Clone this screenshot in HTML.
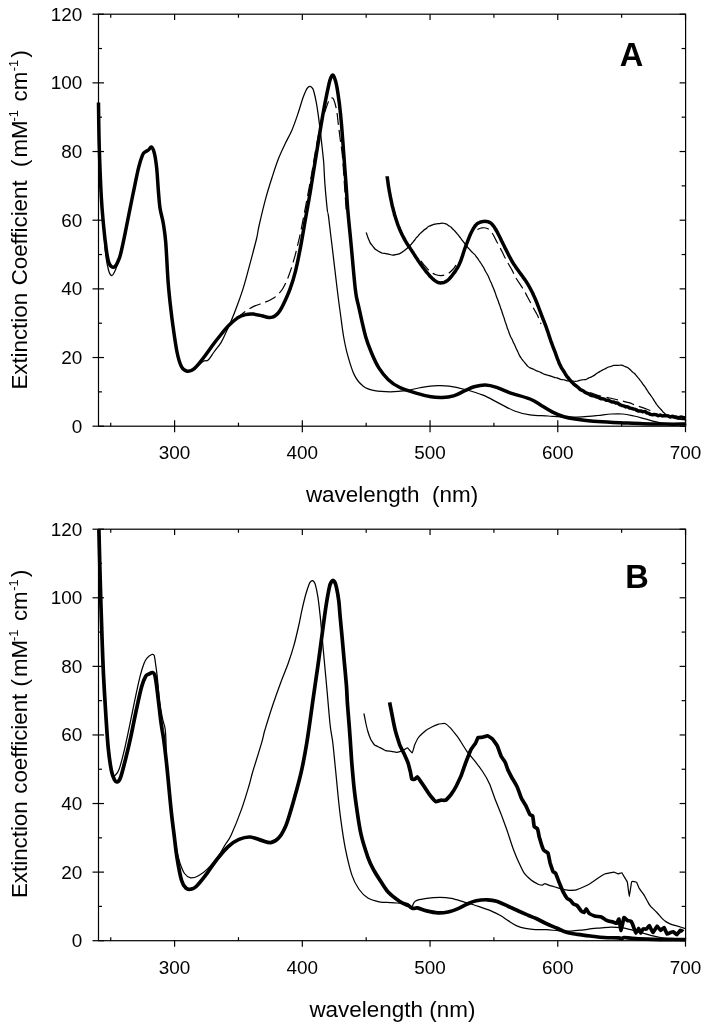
<!DOCTYPE html>
<html><head><meta charset="utf-8"><title>Spectra</title>
<style>
html,body{margin:0;padding:0;background:#fff;}
body{width:708px;height:1029px;overflow:hidden;}
svg{display:block;font-family:"Liberation Sans",Arial,sans-serif;fill:#000;}
.tk{stroke:#000;stroke-width:1.2;}
.tl{font-size:18.2px;}
.al{font-size:21.7px;}
.sup{font-size:12.6px;}
.pl{font-size:32.6px;font-weight:bold;}
.thin{fill:none;stroke:#000;stroke-width:1.25;stroke-linejoin:round;stroke-linecap:round;}
.thick{fill:none;stroke:#000;stroke-width:3.5;stroke-linejoin:round;stroke-linecap:butt;}
.thickB{fill:none;stroke:#000;stroke-width:3.7;stroke-linejoin:round;stroke-linecap:butt;}
.dash{fill:none;stroke:#000;stroke-width:1.2;stroke-dasharray:12 5;}
</style></head><body>
<svg width="708" height="1029" viewBox="0 0 708 1029" style="filter:grayscale(1)">
<rect width="708" height="1029" fill="#fff"/>
<rect x="98.5" y="14.2" width="587.1" height="412.0" fill="none" stroke="#000" stroke-width="1.2"/>
<line x1="92.5" y1="426.20" x2="104.0" y2="426.20" class="tk"/>
<line x1="679.6" y1="426.20" x2="685.6" y2="426.20" class="tk"/>
<text transform="translate(82.3,432.70) scale(1.04,1)" class="tl" text-anchor="end">0</text>
<line x1="98.5" y1="391.87" x2="102.0" y2="391.87" class="tk"/>
<line x1="681.6" y1="391.87" x2="685.6" y2="391.87" class="tk"/>
<line x1="92.5" y1="357.53" x2="104.0" y2="357.53" class="tk"/>
<line x1="679.6" y1="357.53" x2="685.6" y2="357.53" class="tk"/>
<text transform="translate(82.3,364.03) scale(1.04,1)" class="tl" text-anchor="end">20</text>
<line x1="98.5" y1="323.20" x2="102.0" y2="323.20" class="tk"/>
<line x1="681.6" y1="323.20" x2="685.6" y2="323.20" class="tk"/>
<line x1="92.5" y1="288.87" x2="104.0" y2="288.87" class="tk"/>
<line x1="679.6" y1="288.87" x2="685.6" y2="288.87" class="tk"/>
<text transform="translate(82.3,295.37) scale(1.04,1)" class="tl" text-anchor="end">40</text>
<line x1="98.5" y1="254.53" x2="102.0" y2="254.53" class="tk"/>
<line x1="681.6" y1="254.53" x2="685.6" y2="254.53" class="tk"/>
<line x1="92.5" y1="220.20" x2="104.0" y2="220.20" class="tk"/>
<line x1="679.6" y1="220.20" x2="685.6" y2="220.20" class="tk"/>
<text transform="translate(82.3,226.70) scale(1.04,1)" class="tl" text-anchor="end">60</text>
<line x1="98.5" y1="185.87" x2="102.0" y2="185.87" class="tk"/>
<line x1="681.6" y1="185.87" x2="685.6" y2="185.87" class="tk"/>
<line x1="92.5" y1="151.53" x2="104.0" y2="151.53" class="tk"/>
<line x1="679.6" y1="151.53" x2="685.6" y2="151.53" class="tk"/>
<text transform="translate(82.3,158.03) scale(1.04,1)" class="tl" text-anchor="end">80</text>
<line x1="98.5" y1="117.20" x2="102.0" y2="117.20" class="tk"/>
<line x1="681.6" y1="117.20" x2="685.6" y2="117.20" class="tk"/>
<line x1="92.5" y1="82.87" x2="104.0" y2="82.87" class="tk"/>
<line x1="679.6" y1="82.87" x2="685.6" y2="82.87" class="tk"/>
<text transform="translate(82.3,89.37) scale(1.04,1)" class="tl" text-anchor="end">100</text>
<line x1="98.5" y1="48.53" x2="102.0" y2="48.53" class="tk"/>
<line x1="681.6" y1="48.53" x2="685.6" y2="48.53" class="tk"/>
<line x1="92.5" y1="14.20" x2="104.0" y2="14.20" class="tk"/>
<line x1="679.6" y1="14.20" x2="685.6" y2="14.20" class="tk"/>
<text transform="translate(82.3,20.70) scale(1.04,1)" class="tl" text-anchor="end">120</text>
<line x1="110.74" y1="422.7" x2="110.74" y2="426.2" class="tk"/>
<line x1="110.74" y1="14.2" x2="110.74" y2="17.7" class="tk"/>
<line x1="174.60" y1="420.2" x2="174.60" y2="432.2" class="tk"/>
<line x1="174.60" y1="14.2" x2="174.60" y2="20.0" class="tk"/>
<text transform="translate(174.60,459.40) scale(1.04,1)" class="tl" text-anchor="middle">300</text>
<line x1="238.46" y1="422.7" x2="238.46" y2="426.2" class="tk"/>
<line x1="238.46" y1="14.2" x2="238.46" y2="17.7" class="tk"/>
<line x1="302.32" y1="420.2" x2="302.32" y2="432.2" class="tk"/>
<line x1="302.32" y1="14.2" x2="302.32" y2="20.0" class="tk"/>
<text transform="translate(302.32,459.40) scale(1.04,1)" class="tl" text-anchor="middle">400</text>
<line x1="366.19" y1="422.7" x2="366.19" y2="426.2" class="tk"/>
<line x1="366.19" y1="14.2" x2="366.19" y2="17.7" class="tk"/>
<line x1="430.05" y1="420.2" x2="430.05" y2="432.2" class="tk"/>
<line x1="430.05" y1="14.2" x2="430.05" y2="20.0" class="tk"/>
<text transform="translate(430.05,459.40) scale(1.04,1)" class="tl" text-anchor="middle">500</text>
<line x1="493.91" y1="422.7" x2="493.91" y2="426.2" class="tk"/>
<line x1="493.91" y1="14.2" x2="493.91" y2="17.7" class="tk"/>
<line x1="557.77" y1="420.2" x2="557.77" y2="432.2" class="tk"/>
<line x1="557.77" y1="14.2" x2="557.77" y2="20.0" class="tk"/>
<text transform="translate(557.77,459.40) scale(1.04,1)" class="tl" text-anchor="middle">600</text>
<line x1="621.64" y1="422.7" x2="621.64" y2="426.2" class="tk"/>
<line x1="621.64" y1="14.2" x2="621.64" y2="17.7" class="tk"/>
<line x1="685.50" y1="420.2" x2="685.50" y2="432.2" class="tk"/>
<line x1="685.50" y1="14.2" x2="685.50" y2="20.0" class="tk"/>
<text transform="translate(685.50,459.40) scale(1.04,1)" class="tl" text-anchor="middle">700</text>
<rect x="98.5" y="529.2" width="587.1" height="411.5" fill="none" stroke="#000" stroke-width="1.2"/>
<line x1="92.5" y1="940.70" x2="104.0" y2="940.70" class="tk"/>
<line x1="679.6" y1="940.70" x2="685.6" y2="940.70" class="tk"/>
<text transform="translate(82.3,947.20) scale(1.04,1)" class="tl" text-anchor="end">0</text>
<line x1="98.5" y1="906.41" x2="102.0" y2="906.41" class="tk"/>
<line x1="681.6" y1="906.41" x2="685.6" y2="906.41" class="tk"/>
<line x1="92.5" y1="872.12" x2="104.0" y2="872.12" class="tk"/>
<line x1="679.6" y1="872.12" x2="685.6" y2="872.12" class="tk"/>
<text transform="translate(82.3,878.62) scale(1.04,1)" class="tl" text-anchor="end">20</text>
<line x1="98.5" y1="837.83" x2="102.0" y2="837.83" class="tk"/>
<line x1="681.6" y1="837.83" x2="685.6" y2="837.83" class="tk"/>
<line x1="92.5" y1="803.53" x2="104.0" y2="803.53" class="tk"/>
<line x1="679.6" y1="803.53" x2="685.6" y2="803.53" class="tk"/>
<text transform="translate(82.3,810.03) scale(1.04,1)" class="tl" text-anchor="end">40</text>
<line x1="98.5" y1="769.24" x2="102.0" y2="769.24" class="tk"/>
<line x1="681.6" y1="769.24" x2="685.6" y2="769.24" class="tk"/>
<line x1="92.5" y1="734.95" x2="104.0" y2="734.95" class="tk"/>
<line x1="679.6" y1="734.95" x2="685.6" y2="734.95" class="tk"/>
<text transform="translate(82.3,741.45) scale(1.04,1)" class="tl" text-anchor="end">60</text>
<line x1="98.5" y1="700.66" x2="102.0" y2="700.66" class="tk"/>
<line x1="681.6" y1="700.66" x2="685.6" y2="700.66" class="tk"/>
<line x1="92.5" y1="666.37" x2="104.0" y2="666.37" class="tk"/>
<line x1="679.6" y1="666.37" x2="685.6" y2="666.37" class="tk"/>
<text transform="translate(82.3,672.87) scale(1.04,1)" class="tl" text-anchor="end">80</text>
<line x1="98.5" y1="632.08" x2="102.0" y2="632.08" class="tk"/>
<line x1="681.6" y1="632.08" x2="685.6" y2="632.08" class="tk"/>
<line x1="92.5" y1="597.78" x2="104.0" y2="597.78" class="tk"/>
<line x1="679.6" y1="597.78" x2="685.6" y2="597.78" class="tk"/>
<text transform="translate(82.3,604.28) scale(1.04,1)" class="tl" text-anchor="end">100</text>
<line x1="98.5" y1="563.49" x2="102.0" y2="563.49" class="tk"/>
<line x1="681.6" y1="563.49" x2="685.6" y2="563.49" class="tk"/>
<line x1="92.5" y1="529.20" x2="104.0" y2="529.20" class="tk"/>
<line x1="679.6" y1="529.20" x2="685.6" y2="529.20" class="tk"/>
<text transform="translate(82.3,535.70) scale(1.04,1)" class="tl" text-anchor="end">120</text>
<line x1="110.74" y1="937.2" x2="110.74" y2="940.7" class="tk"/>
<line x1="110.74" y1="529.2" x2="110.74" y2="532.7" class="tk"/>
<line x1="174.60" y1="940.7" x2="174.60" y2="946.7" class="tk"/>
<line x1="174.60" y1="529.2" x2="174.60" y2="535.0" class="tk"/>
<text transform="translate(174.60,973.90) scale(1.04,1)" class="tl" text-anchor="middle">300</text>
<line x1="238.46" y1="937.2" x2="238.46" y2="940.7" class="tk"/>
<line x1="238.46" y1="529.2" x2="238.46" y2="532.7" class="tk"/>
<line x1="302.32" y1="940.7" x2="302.32" y2="946.7" class="tk"/>
<line x1="302.32" y1="529.2" x2="302.32" y2="535.0" class="tk"/>
<text transform="translate(302.32,973.90) scale(1.04,1)" class="tl" text-anchor="middle">400</text>
<line x1="366.19" y1="937.2" x2="366.19" y2="940.7" class="tk"/>
<line x1="366.19" y1="529.2" x2="366.19" y2="532.7" class="tk"/>
<line x1="430.05" y1="940.7" x2="430.05" y2="946.7" class="tk"/>
<line x1="430.05" y1="529.2" x2="430.05" y2="535.0" class="tk"/>
<text transform="translate(430.05,973.90) scale(1.04,1)" class="tl" text-anchor="middle">500</text>
<line x1="493.91" y1="937.2" x2="493.91" y2="940.7" class="tk"/>
<line x1="493.91" y1="529.2" x2="493.91" y2="532.7" class="tk"/>
<line x1="557.77" y1="940.7" x2="557.77" y2="946.7" class="tk"/>
<line x1="557.77" y1="529.2" x2="557.77" y2="535.0" class="tk"/>
<text transform="translate(557.77,973.90) scale(1.04,1)" class="tl" text-anchor="middle">600</text>
<line x1="621.64" y1="937.2" x2="621.64" y2="940.7" class="tk"/>
<line x1="621.64" y1="529.2" x2="621.64" y2="532.7" class="tk"/>
<line x1="685.50" y1="940.7" x2="685.50" y2="946.7" class="tk"/>
<line x1="685.50" y1="529.2" x2="685.50" y2="535.0" class="tk"/>
<text transform="translate(685.50,973.90) scale(1.04,1)" class="tl" text-anchor="middle">700</text>
<path d="M98.5 108.0C98.6 114.7 98.8 133.5 99.3 148.3C99.8 163.1 100.6 184.0 101.3 196.9C102.0 209.8 102.9 216.6 103.6 226.0C104.3 235.4 104.7 246.0 105.5 253.3C106.3 260.6 107.5 266.3 108.5 270.0C109.5 273.7 110.8 275.3 111.8 275.6C112.8 275.9 113.6 273.8 114.5 272.0C115.4 270.2 116.4 267.5 117.2 265.0C118.0 262.5 117.9 262.4 119.2 257.2C120.5 252.0 122.7 244.2 125.0 233.8C127.3 223.4 130.5 206.0 132.8 195.0C135.1 184.0 137.0 174.3 138.6 167.7C140.2 161.0 141.4 157.8 142.5 155.1C143.6 152.4 144.4 152.7 145.4 151.8C146.4 151.0 147.5 150.8 148.5 150.0C149.5 149.2 150.5 146.5 151.5 147.1C152.5 147.7 153.5 149.9 154.4 153.4C155.3 156.9 156.0 162.0 156.7 168.1C157.3 174.2 157.8 183.3 158.3 190.0C158.9 196.7 159.2 202.3 160.0 208.0C160.8 213.7 162.5 218.2 163.4 223.9C164.3 229.6 164.9 232.6 165.7 242.0C166.5 251.4 167.3 270.7 168.0 280.4C168.7 290.1 169.1 293.0 169.8 300.0C170.6 307.0 171.3 313.9 172.5 322.6C173.7 331.3 175.5 344.6 177.0 352.0C178.5 359.4 179.8 363.5 181.5 366.7C183.2 369.9 185.1 370.7 187.2 371.2C189.3 371.7 191.4 371.1 194.0 369.5C196.6 367.9 200.6 363.1 203.0 361.5C205.4 359.9 206.4 361.6 208.2 360.0C210.0 358.4 211.9 354.9 214.0 352.0C216.1 349.1 219.0 345.9 221.0 342.6C223.0 339.3 224.5 335.6 226.2 332.1C227.8 328.6 229.1 326.1 230.9 321.6C232.8 317.1 235.2 311.1 237.3 305.3C239.4 299.5 241.6 293.6 243.7 286.6C245.8 279.6 247.9 271.3 250.1 263.3C252.2 255.3 255.1 244.7 256.6 238.5C258.1 232.3 257.5 232.6 259.0 226.0C260.5 219.4 263.4 207.1 265.6 198.9C267.8 190.7 270.0 183.8 272.2 177.0C274.4 170.2 276.5 163.7 278.7 158.1C280.9 152.5 283.1 148.1 285.3 143.5C287.5 138.9 289.7 135.2 291.8 130.4C293.9 125.6 295.9 119.8 297.7 114.4C299.5 109.1 301.4 102.4 302.8 98.3C304.2 94.2 305.5 91.5 306.4 89.6C307.3 87.7 307.8 87.5 308.4 87.0C309.0 86.5 309.5 86.3 310.1 86.4C310.7 86.5 311.3 86.8 311.9 87.6C312.5 88.4 312.9 88.2 313.7 91.0C314.5 93.8 315.6 98.6 316.6 104.2C317.6 109.8 318.5 116.8 319.5 124.6C320.5 132.4 321.8 144.2 322.5 150.8C323.2 157.4 323.4 158.5 323.8 164.0C324.2 169.5 324.3 176.2 324.9 183.9C325.5 191.6 326.7 204.6 327.3 210.0C327.9 215.4 327.6 209.2 328.5 216.4C329.4 223.6 331.4 240.8 332.9 252.9C334.3 265.1 336.0 279.3 337.2 289.3C338.4 299.3 339.2 305.2 340.3 313.0C341.4 320.8 342.3 329.1 343.5 336.0C344.7 342.9 345.7 348.1 347.5 354.6C349.3 361.1 351.7 369.6 354.3 374.9C356.9 380.2 359.9 383.6 363.3 386.2C366.7 388.8 370.1 389.8 374.6 390.7C379.1 391.6 385.0 391.8 390.3 391.8C395.6 391.8 400.9 391.4 406.2 390.7C411.5 389.9 416.7 388.1 422.0 387.3C427.3 386.5 433.3 385.9 437.8 385.7C442.3 385.5 444.6 385.6 449.1 386.2C453.6 386.8 459.2 388.0 464.9 389.5C470.5 391.0 477.4 392.9 483.0 395.2C488.6 397.5 493.5 400.5 498.8 403.1C504.1 405.7 509.4 409.0 514.6 411.0C519.8 413.0 524.4 414.1 530.0 414.9C535.6 415.7 542.1 415.6 548.1 416.0C554.1 416.4 560.6 417.0 566.2 417.1C571.9 417.2 576.7 417.2 582.0 416.9C587.3 416.6 592.9 416.0 597.8 415.5C602.7 415.0 607.2 414.2 611.4 414.0C615.5 413.8 618.9 413.7 622.7 414.0C626.5 414.3 630.2 415.2 634.0 416.0C637.8 416.8 641.5 417.9 645.3 418.9C649.1 419.9 653.2 421.1 656.6 421.9C660.0 422.7 660.8 423.1 665.6 423.5C670.5 423.9 682.4 424.4 685.7 424.6" class="thin" />
<path d="M366.3 232.8C366.3 232.9 366.8 234.2 366.9 234.4C367.0 234.6 367.5 236.5 367.6 236.7C367.7 236.9 368.4 238.7 368.5 239.0C368.6 239.3 369.7 241.7 369.8 242.0C369.9 242.3 371.0 244.1 371.2 244.3C371.4 244.5 372.8 246.3 373.0 246.5C373.2 246.7 374.8 248.8 375.0 249.0C375.2 249.2 377.1 250.4 377.3 250.6C377.6 250.8 379.8 252.0 380.0 252.1C380.2 252.2 382.1 253.1 382.3 253.2C382.5 253.3 384.6 253.3 384.8 253.3C385.0 253.3 386.8 253.8 387.1 253.9C387.4 254.0 389.7 254.4 390.0 254.5C390.3 254.6 392.4 255.2 392.7 255.2C393.0 255.2 395.2 254.8 395.5 254.7C395.8 254.6 398.1 254.2 398.4 254.1C398.7 254.0 400.4 253.2 400.6 253.1C400.8 253.0 402.8 251.7 403.0 251.5C403.2 251.3 405.2 250.0 405.4 249.8C405.6 249.6 407.0 248.5 407.2 248.3C407.4 248.1 408.7 246.4 408.9 246.2C409.1 246.0 410.5 245.0 410.7 244.8C410.9 244.6 412.3 243.0 412.5 242.8C412.7 242.6 414.1 240.7 414.3 240.5C414.5 240.3 415.8 238.3 416.0 238.1C416.2 237.9 417.5 236.6 417.7 236.4C417.9 236.2 419.3 234.4 419.5 234.2C419.7 234.0 421.1 232.7 421.3 232.5C421.5 232.3 422.8 231.2 423.0 231.0C423.2 230.8 424.6 229.5 424.8 229.4C425.0 229.3 426.4 228.4 426.6 228.2C426.8 228.0 428.7 226.4 428.9 226.3C429.1 226.2 431.0 225.5 431.2 225.4C431.4 225.3 433.4 224.4 433.7 224.3C434.0 224.2 436.2 223.9 436.5 223.9C436.8 223.9 439.0 223.5 439.3 223.5C439.6 223.5 441.8 223.1 442.1 223.1C442.4 223.1 444.4 223.4 444.6 223.5C444.8 223.6 446.7 224.2 446.9 224.3C447.1 224.4 449.0 225.9 449.2 226.0C449.4 226.1 450.9 227.0 451.1 227.2C451.3 227.4 452.8 229.0 453.0 229.2C453.2 229.4 454.6 230.8 454.8 231.0C455.0 231.2 456.1 232.6 456.3 232.8C456.5 233.0 457.9 234.6 458.1 234.8C458.3 235.0 459.8 237.1 460.0 237.3C460.2 237.5 461.2 239.0 461.4 239.2C461.5 239.4 462.8 241.0 463.0 241.2C463.2 241.4 464.6 243.5 464.8 243.7C465.0 243.9 466.4 245.6 466.6 245.8C466.8 246.0 468.3 248.1 468.5 248.3C468.7 248.5 469.9 249.8 470.1 250.0C470.3 250.2 471.5 251.6 471.7 251.8C471.9 252.0 473.2 253.2 473.4 253.4C473.6 253.6 474.9 254.7 475.1 254.9C475.3 255.1 476.5 257.1 476.7 257.3C476.9 257.5 478.3 259.4 478.4 259.6C478.5 259.8 479.5 261.2 479.6 261.4C479.7 261.6 480.8 263.0 480.9 263.2C481.0 263.4 482.1 265.2 482.2 265.4C482.3 265.6 483.4 267.1 483.5 267.3C483.6 267.5 484.6 269.7 484.7 269.9C484.8 270.1 485.8 271.8 485.9 272.0C486.0 272.2 487.0 273.8 487.1 274.0C487.2 274.2 488.1 275.8 488.2 276.0C488.3 276.2 489.3 278.6 489.4 278.9C489.5 279.2 490.3 281.1 490.4 281.3C490.5 281.5 491.3 283.0 491.4 283.2C491.5 283.4 492.3 285.7 492.4 285.9C492.5 286.1 493.3 287.9 493.4 288.1C493.5 288.3 494.2 290.1 494.3 290.4C494.4 290.6 495.2 292.8 495.3 293.1C495.4 293.4 496.1 295.4 496.2 295.7C496.3 296.0 497.0 298.0 497.1 298.2C497.2 298.4 497.9 300.1 498.0 300.3C498.1 300.6 498.8 302.9 498.9 303.2C499.0 303.5 499.7 305.1 499.8 305.4C499.9 305.7 500.6 308.0 500.7 308.3C500.8 308.6 501.5 310.3 501.6 310.5C501.7 310.7 502.3 312.9 502.4 313.2C502.5 313.5 503.2 315.6 503.3 315.9C503.4 316.2 504.1 318.0 504.2 318.3C504.3 318.6 504.9 320.9 505.0 321.2C505.1 321.4 505.7 323.1 505.8 323.3C505.9 323.5 506.5 325.4 506.6 325.6C506.7 325.8 507.2 327.9 507.3 328.1C507.4 328.3 507.9 329.5 508.0 329.7C508.1 329.9 508.9 332.2 509.0 332.5C509.1 332.8 509.7 334.5 509.8 334.7C509.9 334.9 510.5 336.5 510.6 336.7C510.7 336.9 511.4 338.1 511.5 338.3C511.6 338.5 512.4 340.1 512.5 340.3C512.6 340.5 513.4 342.6 513.5 342.8C513.6 343.0 514.4 344.3 514.5 344.5C514.6 344.7 515.5 346.9 515.6 347.1C515.7 347.4 516.6 349.3 516.7 349.5C516.8 349.7 517.7 351.5 517.8 351.7C517.9 351.9 518.8 354.1 518.9 354.3C519.0 354.5 519.9 356.2 520.0 356.4C520.1 356.6 521.7 358.9 521.9 359.2C522.1 359.4 523.5 361.2 523.7 361.4C523.9 361.6 525.5 363.7 525.7 363.9C525.9 364.1 527.4 365.9 527.6 366.1C527.8 366.3 529.8 367.8 530.0 367.9C530.2 368.0 531.4 368.3 531.6 368.4C531.8 368.5 533.5 369.2 533.7 369.3C533.9 369.4 535.9 370.5 536.1 370.6C536.4 370.7 538.4 371.4 538.7 371.5C539.0 371.6 541.0 372.5 541.2 372.6C541.4 372.7 543.4 373.9 543.6 374.0C543.8 374.1 545.7 374.5 545.9 374.6C546.1 374.7 547.9 375.3 548.1 375.4C548.3 375.5 550.2 375.8 550.4 375.9C550.6 376.0 552.4 376.7 552.6 376.8C552.8 376.9 554.6 377.5 554.8 377.6C555.0 377.7 556.9 377.8 557.1 377.9C557.3 378.0 559.2 378.8 559.4 378.9C559.6 379.0 561.5 379.5 561.7 379.5C561.9 379.5 563.8 379.7 564.0 379.8C564.2 379.9 566.1 380.5 566.3 380.6C566.5 380.7 568.4 380.9 568.6 380.9C568.8 380.9 570.5 381.3 570.7 381.3C570.9 381.3 572.9 381.2 573.1 381.2C573.3 381.2 575.3 381.3 575.5 381.3C575.7 381.3 577.6 381.1 577.8 381.0C578.0 380.9 579.7 380.3 579.9 380.2C580.1 380.1 581.8 379.8 582.0 379.8C582.2 379.8 584.2 379.7 584.4 379.7C584.6 379.7 586.4 379.3 586.6 379.2C586.8 379.1 588.6 378.0 588.8 377.9C589.0 377.8 590.8 377.2 591.0 377.1C591.2 377.0 593.1 376.0 593.3 375.9C593.5 375.8 595.4 374.5 595.6 374.3C595.8 374.1 597.6 372.9 597.8 372.8C598.0 372.7 599.9 371.5 600.1 371.4C600.3 371.3 602.2 370.2 602.4 370.1C602.6 370.0 604.5 369.1 604.7 369.0C604.9 368.9 606.8 367.8 607.0 367.7C607.2 367.6 608.9 366.9 609.1 366.8C609.3 366.7 611.3 366.4 611.5 366.3C611.7 366.2 613.5 365.4 613.7 365.4C613.9 365.4 615.7 365.4 615.9 365.4C616.1 365.4 618.0 365.4 618.2 365.4C618.4 365.4 620.2 365.1 620.4 365.1C620.6 365.1 622.5 365.3 622.7 365.4C622.9 365.5 624.7 366.4 624.9 366.5C625.1 366.6 626.8 367.2 627.0 367.3C627.2 367.4 629.2 368.8 629.4 369.0C629.6 369.2 630.9 370.4 631.1 370.6C631.3 370.8 632.7 372.2 632.9 372.4C633.1 372.6 634.6 373.6 634.8 373.8C635.0 374.0 636.4 375.8 636.6 376.0C636.8 376.2 638.3 377.9 638.5 378.1C638.7 378.3 639.9 380.1 640.0 380.3C640.1 380.5 641.4 381.8 641.5 382.0C641.6 382.2 642.9 384.2 643.0 384.4C643.1 384.6 644.4 385.9 644.5 386.1C644.6 386.3 645.9 388.2 646.0 388.4C646.1 388.6 647.4 390.6 647.5 390.8C647.6 391.0 648.7 392.7 648.8 392.9C648.9 393.1 650.1 394.4 650.2 394.6C650.3 394.8 651.4 396.3 651.5 396.5C651.6 396.7 652.8 398.3 652.9 398.5C653.0 398.7 654.1 400.5 654.2 400.7C654.3 400.9 655.3 402.2 655.4 402.4C655.5 402.6 656.4 404.2 656.6 404.4C656.8 404.6 658.3 406.7 658.5 406.9C658.7 407.1 660.0 408.4 660.2 408.6C660.4 408.8 661.6 410.2 661.8 410.4C662.0 410.6 663.1 412.1 663.3 412.3C663.5 412.5 665.4 414.0 665.6 414.2C665.8 414.4 667.7 415.6 667.9 415.7C668.1 415.8 669.7 416.4 669.9 416.5C670.1 416.6 672.0 417.3 672.3 417.4C672.6 417.5 674.7 418.3 675.0 418.4C675.3 418.5 677.4 419.2 677.7 419.2C678.0 419.2 680.5 419.3 680.8 419.3C681.1 419.3 683.5 419.7 683.7 419.7C683.9 419.7 685.6 420.0 685.7 420.0" class="thin" />
<path d="M236.0 319.0C236.6 318.5 237.9 317.2 239.7 315.8C241.5 314.4 244.1 312.2 246.6 310.6C249.1 309.0 252.1 307.2 254.8 305.9C257.5 304.6 260.3 304.1 263.0 303.0C265.7 301.9 268.8 300.8 271.1 299.5C273.4 298.2 275.0 297.4 277.0 295.5C279.0 293.6 281.3 291.3 283.3 287.8C285.3 284.3 287.3 279.6 289.1 274.7C290.9 269.8 292.6 264.3 294.2 258.7C295.8 253.1 297.2 247.0 298.6 241.2C300.0 235.4 301.1 229.8 302.3 223.7C303.5 217.6 304.7 211.1 305.9 204.8C307.1 198.5 308.4 191.6 309.5 185.8C310.6 180.0 311.2 176.3 312.3 170.0C313.4 163.7 314.6 155.5 316.0 148.0C317.4 140.5 319.1 131.2 320.6 125.0C322.2 118.8 323.8 114.8 325.3 110.5C326.8 106.2 328.3 101.5 329.4 99.4C330.4 97.3 330.9 97.9 331.6 97.9C332.3 97.9 332.8 97.4 333.6 99.3C334.4 101.2 335.8 105.8 336.5 109.5C337.2 113.2 337.4 116.1 338.0 121.2C338.6 126.3 339.6 134.4 340.3 140.0C341.0 145.6 341.6 147.4 342.3 154.7C343.0 162.0 343.8 174.7 344.4 183.9C345.0 193.1 345.9 205.7 346.2 210.0" class="dash" />
<path d="M421.0 261.0C421.5 261.6 422.4 263.0 423.8 264.6C425.2 266.2 427.5 269.2 429.4 270.9C431.3 272.5 433.1 273.7 435.1 274.5C437.1 275.3 439.3 275.7 441.4 275.6C443.5 275.5 445.8 274.9 447.8 273.8C449.8 272.7 452.0 270.3 453.4 268.8C454.8 267.3 455.6 265.6 456.0 265.0" class="dash" />
<path d="M477.5 229.6C478.1 229.3 479.6 228.2 481.2 228.0C482.8 227.8 485.0 227.4 486.8 228.2C488.6 228.9 490.2 230.4 491.8 232.5C493.4 234.6 494.6 237.7 496.4 241.0C498.2 244.3 500.8 249.2 502.4 252.3C504.0 255.4 504.2 256.2 505.9 259.3C507.5 262.4 510.6 267.5 512.3 270.6C513.9 273.7 513.9 274.5 515.8 277.7C517.7 280.9 521.6 286.4 523.6 289.7C525.6 293.0 526.0 294.2 527.8 297.5C529.6 300.8 532.6 306.4 534.2 309.5C535.9 312.6 536.6 313.4 537.7 315.8C538.8 318.2 540.5 322.6 541.0 324.0" class="dash" />
<path d="M590.0 392.6C591.4 393.1 595.2 394.7 598.5 395.6C601.8 396.5 606.9 397.4 609.8 398.0C612.7 398.6 612.9 398.7 616.1 399.5C619.3 400.3 625.6 401.8 628.8 402.7C632.0 403.6 632.2 404.1 635.2 405.2C638.2 406.2 643.2 407.8 646.5 409.0C649.8 410.2 653.6 411.8 655.0 412.3" class="dash" />
<path d="M98.5 102.6C98.6 110.2 98.8 132.6 99.3 148.3C99.8 164.0 100.6 184.0 101.3 196.9C102.0 209.8 102.8 217.2 103.6 226.0C104.4 234.8 105.5 243.7 106.3 249.4C107.1 255.2 107.6 258.0 108.2 260.5C108.8 263.0 109.2 263.6 109.8 264.6C110.3 265.6 110.9 266.2 111.5 266.6C112.1 267.0 112.6 267.2 113.2 267.2C113.8 267.2 114.3 267.1 114.9 266.6C115.5 266.1 116.0 265.5 116.6 264.4C117.2 263.3 117.9 261.7 118.6 260.0C119.3 258.3 119.5 258.4 120.6 254.0C121.7 249.6 123.0 243.6 125.0 233.8C127.0 224.0 130.5 206.0 132.8 195.0C135.1 184.0 137.0 174.3 138.6 167.7C140.2 161.0 141.4 157.8 142.5 155.1C143.6 152.4 144.4 152.7 145.4 151.8C146.4 151.0 147.5 150.8 148.5 150.0C149.5 149.2 150.5 146.5 151.5 147.1C152.5 147.7 153.5 149.9 154.4 153.4C155.3 156.9 156.0 162.0 156.7 168.1C157.3 174.2 157.8 183.3 158.3 190.0C158.9 196.7 159.2 202.3 160.0 208.0C160.8 213.7 162.5 218.2 163.4 223.9C164.3 229.6 164.9 232.6 165.7 242.0C166.5 251.4 167.3 270.7 168.0 280.4C168.7 290.1 169.1 293.0 169.8 300.0C170.6 307.0 171.3 313.9 172.5 322.6C173.7 331.3 175.5 344.6 177.0 352.0C178.5 359.4 179.8 363.5 181.5 366.7C183.2 369.9 185.1 370.8 187.2 371.2C189.3 371.6 191.3 371.1 194.0 368.9C196.7 366.7 200.4 361.8 203.5 357.8C206.6 353.8 209.9 348.9 212.8 345.0C215.7 341.1 218.3 337.8 221.0 334.5C223.7 331.2 226.5 327.8 229.2 325.1C231.9 322.4 234.6 319.9 237.3 318.1C240.0 316.4 242.8 315.3 245.5 314.6C248.2 313.9 250.9 313.9 253.6 314.1C256.3 314.3 259.3 315.2 261.8 315.8C264.3 316.4 266.9 317.3 268.7 317.5C270.5 317.7 271.3 317.6 272.5 317.2C273.7 316.8 274.8 316.2 276.0 315.2C277.2 314.2 278.5 312.8 279.7 311.0C280.9 309.2 281.6 308.1 283.3 304.5C285.0 300.9 287.8 295.0 289.9 289.3C292.0 283.6 293.9 277.6 295.7 270.3C297.5 263.0 299.1 254.6 300.8 245.6C302.5 236.6 304.3 225.4 305.9 216.4C307.5 207.4 309.0 199.5 310.3 191.7C311.6 183.8 312.3 179.1 313.9 169.3C315.5 159.5 318.0 143.8 319.8 132.9C321.6 122.0 323.3 112.0 324.9 103.7C326.5 95.4 328.2 87.4 329.2 83.0C330.2 78.6 330.4 78.5 331.0 77.2C331.6 75.9 332.1 75.1 332.6 75.1C333.2 75.1 333.7 75.8 334.3 77.4C334.9 79.0 335.6 80.4 336.5 84.8C337.4 89.2 338.5 96.9 339.4 103.7C340.2 110.5 340.9 117.1 341.6 125.6C342.3 134.1 343.1 145.0 343.8 154.7C344.5 164.4 345.3 174.7 346.0 183.9C346.7 193.1 347.0 200.3 347.8 210.0C348.6 219.7 349.6 229.0 350.9 242.3C352.2 255.6 354.1 279.2 355.4 290.0C356.7 300.8 357.1 299.4 358.8 307.1C360.5 314.9 363.4 328.7 365.6 336.5C367.8 344.3 369.8 348.7 372.0 354.0C374.2 359.3 376.3 363.9 379.0 368.1C381.7 372.3 384.7 376.2 388.1 379.4C391.5 382.6 394.9 385.1 399.4 387.3C403.9 389.6 409.9 391.3 415.2 392.9C420.5 394.5 426.5 396.0 431.0 396.8C435.5 397.6 438.5 397.6 442.3 397.5C446.1 397.4 449.8 397.0 453.6 395.9C457.4 394.8 461.5 392.2 464.9 390.7C468.3 389.2 470.6 387.8 474.0 386.8C477.4 385.9 481.5 384.9 485.3 385.0C489.1 385.1 492.5 386.0 496.6 387.3C500.7 388.6 504.5 390.9 510.1 392.9C515.7 394.8 524.8 396.9 530.0 399.0C535.2 401.1 537.5 403.2 541.3 405.4C545.1 407.6 548.8 410.2 552.6 412.1C556.4 414.0 560.1 415.6 563.9 416.7C567.7 417.8 569.6 418.1 575.2 418.9C580.9 419.7 590.3 421.0 597.8 421.6C605.3 422.2 612.9 422.5 620.4 422.8C627.9 423.1 635.5 423.5 643.0 423.7C650.5 423.9 658.5 424.0 665.6 424.1C672.7 424.2 682.4 424.1 685.7 424.1" class="thick" />
<path d="M387.1 176.3C387.1 176.4 387.3 177.4 387.3 177.5C387.3 177.6 387.5 179.0 387.5 179.2C387.5 179.4 387.8 181.0 387.8 181.2C387.8 181.4 388.1 183.2 388.1 183.4C388.1 183.6 388.4 185.5 388.4 185.7C388.4 185.9 388.8 187.9 388.8 188.1C388.8 188.3 389.2 190.2 389.2 190.4C389.2 190.6 389.5 192.0 389.5 192.2C389.5 192.4 389.9 193.8 389.9 194.0C389.9 194.2 390.2 195.7 390.2 195.9C390.2 196.1 390.6 197.6 390.6 197.8C390.6 198.0 391.0 199.5 391.0 199.7C391.0 199.9 391.4 201.4 391.4 201.6C391.4 201.8 391.8 203.4 391.8 203.6C391.8 203.8 392.2 205.3 392.2 205.5C392.2 205.7 392.6 207.2 392.7 207.4C392.8 207.6 393.1 209.1 393.2 209.3C393.2 209.5 393.6 211.0 393.7 211.2C393.8 211.4 394.1 212.9 394.2 213.1C394.2 213.3 394.6 214.9 394.7 215.1C394.8 215.3 395.2 216.8 395.3 217.0C395.4 217.2 395.8 218.7 395.9 218.9C396.0 219.1 396.4 220.5 396.5 220.7C396.6 220.9 397.0 222.3 397.1 222.5C397.2 222.7 397.6 224.1 397.7 224.3C397.8 224.5 398.3 226.0 398.4 226.2C398.5 226.4 399.1 227.9 399.2 228.1C399.3 228.3 399.8 229.7 399.9 229.9C400.0 230.1 400.6 231.5 400.7 231.7C400.8 231.9 401.4 233.2 401.5 233.4C401.6 233.6 402.2 234.9 402.3 235.1C402.4 235.3 403.1 236.6 403.2 236.8C403.3 237.0 403.9 238.2 404.0 238.4C404.1 238.6 404.9 239.9 405.0 240.1C405.1 240.3 405.8 241.6 405.9 241.8C406.0 242.0 406.8 243.2 406.9 243.4C407.0 243.6 407.8 244.8 407.9 244.9C408.0 245.1 408.9 246.2 409.0 246.4C409.1 246.6 409.9 247.8 410.0 248.0C410.1 248.2 411.0 249.5 411.1 249.7C411.2 249.9 412.0 251.0 412.1 251.2C412.2 251.4 413.0 252.6 413.1 252.8C413.2 253.0 414.1 254.3 414.2 254.5C414.3 254.7 415.1 255.9 415.2 256.1C415.3 256.3 416.2 257.5 416.3 257.7C416.4 257.9 417.3 259.2 417.4 259.4C417.5 259.6 418.3 260.8 418.4 261.0C418.5 261.2 419.4 262.3 419.5 262.5C419.6 262.7 420.6 264.0 420.7 264.2C420.8 264.4 421.9 265.8 422.0 266.0C422.1 266.2 423.1 267.5 423.2 267.7C423.3 267.9 424.3 269.1 424.4 269.3C424.5 269.5 425.6 270.7 425.7 270.9C425.8 271.1 426.8 272.3 426.9 272.4C427.0 272.5 427.9 273.6 428.0 273.8C428.1 274.0 429.4 275.4 429.5 275.6C429.6 275.8 430.9 277.0 431.0 277.1C431.1 277.2 432.3 278.5 432.4 278.6C432.5 278.7 433.7 279.7 433.8 279.8C433.9 279.9 434.9 280.7 435.1 280.8C435.3 280.9 436.8 281.9 437.0 282.0C437.2 282.1 438.6 282.7 438.8 282.7C439.0 282.7 440.5 282.9 440.7 282.9C440.9 282.9 442.6 282.7 442.8 282.7C443.0 282.7 444.7 282.1 444.9 282.0C445.1 281.9 446.9 280.9 447.1 280.8C447.3 280.7 448.3 279.9 448.4 279.8C448.5 279.7 449.5 278.6 449.6 278.5C449.7 278.4 450.8 277.2 450.9 277.1C451.0 277.0 452.0 275.7 452.1 275.5C452.2 275.3 453.3 274.0 453.4 273.8C453.5 273.6 454.3 272.5 454.4 272.4C454.5 272.3 455.4 271.1 455.5 270.9C455.6 270.7 456.4 269.5 456.5 269.3C456.6 269.1 457.5 267.8 457.6 267.6C457.7 267.4 458.5 265.9 458.6 265.7C458.7 265.5 459.5 263.8 459.6 263.6C459.7 263.4 460.2 262.2 460.3 262.0C460.4 261.8 460.9 260.4 461.0 260.2C461.1 260.0 461.5 258.5 461.6 258.3C461.7 258.1 462.2 256.6 462.3 256.4C462.4 256.2 462.9 254.5 463.0 254.3C463.1 254.1 463.5 252.5 463.6 252.3C463.7 252.1 464.2 250.5 464.3 250.3C464.4 250.1 464.8 248.6 464.9 248.4C465.0 248.2 465.5 246.8 465.6 246.6C465.7 246.4 466.2 244.9 466.3 244.7C466.4 244.5 467.0 242.9 467.1 242.7C467.2 242.5 467.7 241.0 467.8 240.8C467.9 240.6 468.4 239.2 468.5 239.0C468.6 238.8 469.1 237.4 469.2 237.2C469.3 237.0 469.8 235.7 469.9 235.5C470.0 235.3 470.5 234.1 470.6 233.9C470.7 233.8 471.2 232.7 471.3 232.5C471.4 232.3 472.2 230.7 472.3 230.5C472.4 230.3 473.2 228.9 473.3 228.7C473.4 228.5 474.2 227.3 474.3 227.2C474.4 227.1 475.1 225.9 475.2 225.8C475.3 225.7 476.1 224.8 476.2 224.7C476.3 224.6 477.6 223.4 477.8 223.3C478.0 223.2 479.3 222.6 479.5 222.5C479.7 222.4 481.0 222.0 481.2 221.9C481.4 221.8 482.8 221.5 483.0 221.5C483.2 221.5 484.8 221.3 485.0 221.3C485.2 221.3 486.6 221.5 486.8 221.5C487.0 221.5 488.3 221.8 488.5 221.9C488.7 222.0 490.0 222.6 490.2 222.7C490.4 222.8 491.7 223.9 491.8 224.0C491.9 224.1 492.9 225.2 493.0 225.4C493.1 225.6 494.1 226.8 494.2 227.0C494.3 227.2 495.3 228.7 495.4 228.9C495.5 229.1 496.6 230.9 496.7 231.1C496.8 231.3 497.5 232.5 497.6 232.7C497.7 232.9 498.4 234.4 498.5 234.6C498.6 234.8 499.4 236.3 499.5 236.5C499.6 236.7 500.4 238.3 500.5 238.5C500.6 238.7 501.3 240.3 501.4 240.5C501.5 240.7 502.3 242.2 502.4 242.4C502.5 242.6 503.2 244.1 503.3 244.3C503.4 244.5 504.2 246.0 504.3 246.2C504.4 246.4 505.1 248.0 505.2 248.2C505.3 248.4 506.1 249.9 506.2 250.1C506.3 250.3 507.0 251.7 507.1 251.9C507.2 252.1 507.9 253.5 508.0 253.7C508.1 253.9 508.9 255.5 509.0 255.7C509.1 255.9 509.9 257.3 510.0 257.5C510.1 257.7 510.8 259.1 510.9 259.3C511.0 259.5 511.8 260.9 511.9 261.1C512.0 261.3 512.9 262.7 513.0 262.9C513.1 263.1 513.9 264.2 514.0 264.4C514.1 264.5 514.9 265.8 515.0 265.9C515.1 266.0 515.9 267.2 516.0 267.4C516.1 267.5 517.0 268.8 517.1 268.9C517.2 269.0 518.1 270.2 518.2 270.4C518.3 270.6 519.2 271.8 519.3 272.0C519.4 272.2 520.4 273.4 520.5 273.6C520.6 273.8 521.6 275.0 521.7 275.2C521.8 275.4 522.8 276.7 522.9 276.9C523.0 277.1 524.0 278.4 524.1 278.6C524.2 278.8 525.2 280.0 525.3 280.2C525.4 280.4 526.3 281.7 526.4 281.9C526.5 282.1 527.3 283.3 527.4 283.5C527.5 283.7 528.3 284.9 528.4 285.1C528.5 285.3 529.2 286.6 529.3 286.8C529.4 287.0 530.1 288.2 530.2 288.4C530.3 288.6 531.0 289.9 531.1 290.1C531.2 290.3 531.9 291.6 532.0 291.8C532.1 292.0 532.8 293.4 532.9 293.6C533.0 293.8 533.6 295.3 533.7 295.5C533.8 295.7 534.5 297.2 534.6 297.4C534.7 297.6 535.3 299.1 535.4 299.3C535.5 299.5 536.1 301.0 536.2 301.2C536.3 301.4 536.9 302.9 537.0 303.1C537.1 303.3 537.6 304.8 537.7 305.0C537.8 305.2 538.3 306.6 538.4 306.8C538.5 307.0 539.0 308.5 539.1 308.7C539.2 308.9 539.7 310.3 539.8 310.5C539.9 310.7 540.4 312.2 540.5 312.4C540.6 312.6 541.1 314.2 541.2 314.4C541.3 314.6 541.8 315.9 541.9 316.1C542.0 316.3 542.5 317.7 542.6 317.9C542.7 318.1 543.2 319.5 543.3 319.7C543.4 319.9 544.0 321.4 544.1 321.6C544.2 321.8 544.7 323.2 544.8 323.4C544.9 323.6 545.4 325.1 545.5 325.3C545.6 325.5 546.1 326.9 546.2 327.1C546.3 327.3 546.7 328.7 546.8 328.9C546.9 329.1 547.4 330.6 547.5 330.8C547.6 331.0 548.0 332.5 548.1 332.7C548.2 332.9 548.6 334.3 548.7 334.5C548.8 334.7 549.2 336.1 549.3 336.3C549.4 336.5 549.8 338.0 549.9 338.2C550.0 338.4 550.4 339.8 550.5 340.0C550.6 340.2 551.1 341.8 551.2 342.0C551.3 342.2 551.9 343.8 552.0 344.0C552.1 344.2 552.6 345.8 552.7 346.0C552.8 346.2 553.4 347.9 553.5 348.1C553.6 348.3 554.2 349.9 554.3 350.1C554.4 350.3 554.9 351.7 555.0 351.9C555.1 352.1 555.6 353.7 555.7 353.9C555.8 354.1 556.4 355.9 556.5 356.1C556.6 356.3 557.1 358.0 557.2 358.2C557.3 358.4 557.9 359.9 558.0 360.1C558.1 360.3 558.6 361.7 558.7 361.9C558.8 362.1 559.3 363.5 559.4 363.7C559.5 363.9 560.3 365.4 560.4 365.6C560.5 365.8 561.3 367.5 561.4 367.7C561.5 367.9 562.3 369.0 562.4 369.2C562.5 369.4 563.4 370.7 563.5 370.9C563.6 371.1 564.5 372.4 564.6 372.6C564.7 372.8 565.5 374.2 565.6 374.4C565.7 374.6 566.8 376.2 566.9 376.4C567.0 376.6 568.3 377.9 568.4 378.1C568.5 378.3 569.5 379.5 569.6 379.7C569.7 379.9 570.9 381.1 571.0 381.2C571.1 381.3 572.3 382.5 572.5 382.7C572.7 382.9 573.9 384.3 574.1 384.4C574.3 384.5 575.6 385.5 575.8 385.6C576.0 385.7 577.3 386.9 577.5 387.0C577.7 387.1 578.9 388.1 579.0 388.2C579.1 388.3 580.3 389.5 580.5 389.6C580.7 389.7 581.9 390.3 582.1 390.4C582.3 390.5 583.5 391.2 583.7 391.3C583.9 391.4 585.1 392.4 585.3 392.5C585.5 392.6 586.9 393.1 587.1 393.2C587.3 393.3 588.6 393.8 588.8 393.9C589.0 394.0 590.4 395.0 590.6 395.1C590.8 395.2 592.3 395.7 592.5 395.7C592.7 395.7 594.2 395.9 594.4 396.0C594.6 396.1 596.2 396.8 596.4 396.9C596.6 397.0 598.2 397.3 598.4 397.4C598.6 397.5 600.1 398.3 600.3 398.4C600.5 398.5 602.1 398.8 602.3 398.8C602.5 398.8 604.0 398.9 604.2 399.0C604.4 399.1 606.0 400.3 606.2 400.4C606.4 400.5 607.9 400.1 608.1 400.1C608.3 400.1 609.9 401.0 610.1 401.1C610.3 401.2 611.8 402.1 612.0 402.1C612.2 402.1 613.8 401.9 614.0 402.0C614.2 402.1 615.7 403.0 615.9 403.1C616.1 403.2 617.6 403.0 617.8 403.1C618.0 403.2 619.6 404.5 619.8 404.6C620.0 404.7 621.5 405.3 621.7 405.4C621.9 405.5 623.4 405.7 623.6 405.8C623.8 405.9 625.3 406.9 625.5 406.9C625.7 406.9 627.3 406.6 627.5 406.7C627.7 406.8 629.2 407.8 629.4 407.9C629.6 408.0 631.1 408.2 631.3 408.3C631.5 408.4 633.1 408.8 633.3 408.9C633.5 408.9 635.0 409.2 635.2 409.3C635.4 409.4 637.0 410.3 637.2 410.4C637.4 410.5 638.9 411.1 639.1 411.1C639.3 411.1 640.9 410.9 641.1 410.9C641.3 410.9 642.8 411.7 643.0 411.7C643.2 411.7 644.7 411.3 644.9 411.4C645.1 411.5 646.7 412.8 646.9 412.9C647.1 413.0 648.6 413.3 648.8 413.4C649.0 413.5 650.6 414.4 650.8 414.5C651.0 414.6 652.5 414.7 652.7 414.7C652.9 414.7 654.5 414.4 654.7 414.4C654.9 414.4 656.4 414.8 656.6 414.9C656.8 415.0 658.3 415.7 658.5 415.7C658.7 415.7 660.2 415.0 660.4 415.0C660.6 415.0 662.1 415.9 662.3 415.9C662.5 415.9 664.0 415.7 664.2 415.7C664.4 415.7 665.9 415.8 666.1 415.8C666.3 415.8 667.9 415.8 668.1 415.9C668.3 416.0 669.9 417.1 670.1 417.1C670.3 417.1 671.9 416.3 672.1 416.3C672.3 416.3 674.0 416.7 674.2 416.7C674.4 416.7 676.3 416.9 676.5 417.0C676.7 417.1 678.5 417.9 678.7 417.9C678.9 417.9 680.7 416.9 680.9 416.9C681.1 416.9 682.6 417.5 682.8 417.5C683.0 417.5 684.4 417.8 684.5 417.8C684.6 417.8 685.6 418.4 685.7 418.4" class="thick" />
<path d="M100.5 600.0C100.8 606.7 101.5 626.9 102.0 640.0C102.5 653.1 102.9 666.1 103.5 678.9C104.1 691.7 104.9 705.5 105.6 717.0C106.3 728.5 107.0 739.7 107.8 748.0C108.6 756.3 109.7 762.7 110.6 767.0C111.5 771.3 112.2 772.6 113.0 774.0C113.8 775.4 114.3 776.0 115.3 775.2C116.3 774.4 117.8 772.9 119.2 769.0C120.6 765.1 122.2 758.9 123.9 751.9C125.6 744.9 127.5 735.6 129.3 727.1C131.1 718.6 132.9 709.2 134.7 700.6C136.5 692.0 138.6 682.0 140.2 675.8C141.8 669.6 142.9 666.3 144.1 663.3C145.3 660.3 145.9 659.4 147.2 657.9C148.5 656.4 150.6 654.9 151.8 654.5C153.0 654.1 153.5 653.8 154.2 655.5C154.8 657.2 155.2 661.3 155.7 664.9C156.2 668.5 156.7 671.1 157.3 677.3C158.0 683.5 158.7 695.2 159.6 702.2C160.5 709.2 161.8 714.9 162.7 719.3C163.6 723.7 164.6 725.2 165.1 728.6C165.6 732.0 165.7 734.8 165.9 739.5C166.1 744.2 165.8 749.9 166.2 756.6C166.6 763.3 167.5 770.5 168.4 779.9C169.3 789.3 170.5 802.8 171.6 812.8C172.7 822.8 174.0 832.9 175.0 839.9C176.0 846.9 176.9 850.9 177.8 855.0C178.7 859.1 179.3 861.3 180.4 864.4C181.5 867.5 182.8 871.2 184.5 873.5C186.2 875.8 188.3 877.5 190.6 877.9C192.9 878.3 195.7 877.2 198.5 875.7C201.3 874.2 204.1 872.3 207.5 868.9C210.9 865.5 215.8 859.4 218.8 855.3C221.8 851.1 223.5 847.4 225.6 844.0C227.7 840.6 228.6 840.7 231.2 835.0C233.8 829.3 238.3 818.2 241.3 809.9C244.3 801.6 247.3 791.3 249.2 785.0C251.1 778.7 250.5 779.2 252.6 772.2C254.7 765.2 259.6 749.8 261.6 742.8C263.7 735.8 263.0 736.2 264.9 730.0C266.8 723.8 270.1 713.0 272.7 705.3C275.3 697.5 277.8 690.5 280.4 683.5C283.0 676.5 286.0 669.5 288.2 663.3C290.4 657.1 292.0 652.2 293.7 646.2C295.4 640.2 296.9 633.7 298.3 627.5C299.7 621.3 300.9 614.6 302.2 608.9C303.5 603.2 304.9 597.4 306.1 593.3C307.3 589.1 308.4 586.0 309.2 584.0C310.0 582.0 310.4 582.0 310.9 581.4C311.4 580.8 311.8 580.6 312.3 580.6C312.8 580.6 313.3 580.9 313.8 581.6C314.3 582.3 314.7 582.3 315.4 584.8C316.1 587.3 317.0 591.3 317.8 596.4C318.6 601.5 319.3 607.8 320.1 615.1C320.9 622.4 321.6 631.5 322.4 640.0C323.2 648.5 324.0 657.9 324.8 666.4C325.6 674.9 326.2 681.4 327.1 691.3C328.0 701.1 329.2 716.9 330.2 725.5C331.1 734.1 331.9 735.0 332.8 742.8C333.7 750.6 334.9 763.5 335.8 772.2C336.7 780.9 337.2 787.2 338.0 795.0C338.8 802.8 339.5 810.0 340.7 818.9C341.9 827.8 343.4 838.9 345.3 848.3C347.2 857.7 349.8 868.6 352.0 875.4C354.2 882.2 356.2 885.2 358.8 889.0C361.4 892.8 364.5 895.9 367.9 898.0C371.3 900.1 375.5 901.0 379.2 901.8C382.9 902.6 387.0 902.4 390.0 902.6C393.0 902.8 394.2 902.9 397.1 903.0C400.0 903.1 404.9 902.8 407.3 903.4C409.8 904.0 410.5 907.2 411.8 906.8C413.1 906.4 412.8 902.6 415.2 901.2C417.6 899.8 422.4 899.0 426.5 898.4C430.6 897.8 436.0 897.3 440.1 897.3C444.2 897.3 447.3 897.6 451.4 898.4C455.5 899.2 460.4 901.0 464.9 902.3C469.4 903.6 474.0 904.9 478.5 906.4C483.0 907.9 488.4 909.8 492.0 911.3C495.6 912.8 497.2 913.7 500.0 915.3C502.8 916.9 505.7 919.1 508.5 920.9C511.3 922.7 514.1 924.6 516.9 925.9C519.7 927.1 522.3 927.8 525.4 928.4C528.5 929.0 531.8 929.5 535.3 929.7C538.8 929.9 542.6 929.5 546.6 929.7C550.6 929.9 555.3 930.6 559.3 930.8C563.3 931.0 566.8 931.2 570.6 931.1C574.4 931.0 578.4 930.5 581.9 930.1C585.4 929.7 588.6 929.1 591.8 928.7C595.0 928.3 598.1 928.2 601.3 927.9C604.5 927.6 607.9 927.1 611.2 927.1C614.5 927.1 617.8 927.2 621.1 927.6C624.4 928.0 627.7 928.9 631.0 929.7C634.3 930.5 637.5 931.6 640.8 932.5C644.1 933.4 647.4 934.5 650.7 935.3C654.0 936.1 657.1 937.0 660.6 937.5C664.1 938.0 667.7 938.2 671.9 938.4C676.1 938.6 683.4 938.7 685.7 938.8" class="thin" />
<path d="M364.0 713.9C364.1 714.4 365.6 722.1 365.8 723.0C366.0 723.9 367.6 730.7 367.9 731.5C368.1 732.3 370.5 738.8 370.8 739.5C371.1 740.2 374.1 744.7 374.6 745.1C375.1 745.5 379.4 747.3 380.0 747.6C380.6 747.9 385.0 750.5 385.6 750.7C386.2 750.9 390.7 751.3 391.3 751.4C391.9 751.5 396.3 752.4 396.9 752.4C397.5 752.4 402.1 750.9 402.6 750.7C403.1 750.5 407.0 747.8 407.5 747.9C408.0 748.0 411.8 753.0 412.2 752.9C412.6 752.8 414.3 745.8 414.6 745.1C414.9 744.4 417.6 738.7 418.1 738.0C418.6 737.3 424.5 731.6 425.2 731.0C425.9 730.4 431.7 727.0 432.3 726.7C432.9 726.4 437.3 724.5 437.9 724.3C438.5 724.1 444.4 723.3 445.0 723.5C445.6 723.7 450.0 727.5 450.6 728.1C451.2 728.7 455.8 734.6 456.3 735.2C456.8 735.8 459.5 739.6 460.0 740.4C460.5 741.2 466.4 750.7 467.1 751.7C467.8 752.7 473.3 759.2 474.1 760.2C474.9 761.2 481.8 770.3 482.6 771.5C483.4 772.7 489.1 782.8 489.7 784.2C490.3 785.6 494.7 798.2 495.3 799.7C495.9 801.2 500.4 812.4 501.0 813.9C501.6 815.4 506.5 828.8 507.1 830.5C507.7 832.2 512.1 845.9 512.7 847.5C513.3 849.1 517.8 860.3 518.4 861.6C519.0 862.9 523.4 872.0 524.0 872.9C524.6 873.8 530.4 879.4 531.1 880.0C531.8 880.6 537.5 883.9 538.1 884.2C538.7 884.5 542.1 885.2 542.4 885.2C542.7 885.2 544.6 883.5 544.9 883.5C545.2 883.5 547.5 884.7 548.0 884.9C548.5 885.1 554.4 886.8 555.1 887.0C555.8 887.2 561.4 889.0 562.1 889.2C562.8 889.4 568.5 890.3 569.2 890.3C569.9 890.3 575.6 890.1 576.3 889.9C577.0 889.7 582.6 887.3 583.3 887.0C584.0 886.7 589.3 884.2 590.0 883.8C590.7 883.4 596.4 879.3 597.1 878.8C597.8 878.3 603.5 874.6 604.1 874.3C604.7 874.0 609.3 873.0 609.8 872.9C610.3 872.8 613.6 872.2 614.0 872.2C614.4 872.2 617.8 873.9 618.2 873.9C618.6 873.9 621.5 872.6 621.8 872.8C622.1 873.0 624.3 876.9 624.6 877.4C624.9 877.9 627.2 881.4 627.4 882.4C627.6 883.4 629.1 896.5 629.3 896.5C629.5 896.5 631.3 882.4 631.7 881.7C632.1 881.0 636.2 882.0 636.6 882.4C637.0 882.8 639.0 888.1 639.4 888.7C639.8 889.3 643.3 893.7 643.7 894.4C644.1 895.1 647.5 901.5 647.9 902.1C648.2 902.7 650.3 905.9 650.7 906.4C651.1 906.9 655.8 911.4 656.4 912.0C657.0 912.6 661.5 917.9 662.0 918.4C662.5 918.9 665.8 921.6 666.3 921.9C666.8 922.2 671.3 924.5 671.9 924.7C672.5 924.9 677.0 926.0 677.6 926.2C678.2 926.4 684.2 928.2 684.6 928.3" class="thin" />
<path d="M98.9 529.5C99.1 537.9 99.7 561.6 100.2 580.0C100.7 598.4 101.5 623.5 102.1 640.0C102.7 656.5 103.0 665.9 103.7 678.9C104.4 691.9 105.2 706.1 106.0 717.7C106.8 729.4 107.4 740.0 108.3 748.8C109.2 757.6 110.4 765.4 111.4 770.6C112.4 775.8 113.5 778.0 114.5 779.9C115.5 781.8 116.5 782.3 117.6 781.8C118.6 781.3 119.5 780.5 120.8 776.8C122.1 773.1 123.7 766.4 125.4 759.7C127.1 753.0 129.1 744.7 130.9 736.4C132.7 728.1 134.5 718.3 136.3 710.0C138.1 701.7 140.1 692.2 141.7 686.6C143.2 681.0 144.4 678.6 145.6 676.5C146.8 674.4 147.5 674.9 148.7 674.2C149.9 673.6 151.5 672.3 152.6 672.6C153.7 672.9 154.2 672.7 155.0 675.8C155.8 678.9 156.4 684.3 157.3 691.3C158.2 698.3 159.6 711.1 160.4 717.7C161.2 724.3 161.8 727.4 162.3 731.0C162.9 734.6 163.1 735.2 163.7 739.5C164.3 743.8 165.1 749.9 165.8 756.6C166.6 763.3 167.3 770.5 168.2 779.9C169.1 789.3 170.3 802.8 171.4 812.8C172.5 822.8 173.8 832.4 174.7 839.9C175.6 847.4 175.9 850.9 177.0 857.6C178.1 864.3 180.0 875.1 181.5 880.2C183.0 885.3 184.5 886.6 186.0 888.1C187.5 889.6 188.9 889.5 190.6 889.2C192.3 888.9 193.8 888.8 196.2 886.5C198.6 884.2 201.9 880.1 205.3 875.7C208.7 871.3 212.8 864.7 216.6 859.9C220.4 855.1 224.2 850.2 227.9 846.8C231.6 843.4 235.3 841.0 239.0 839.4C242.7 837.8 246.5 836.8 250.3 837.0C254.1 837.2 258.2 839.5 261.6 840.4C265.0 841.3 267.9 843.0 270.7 842.6C273.5 842.2 276.2 840.7 278.6 838.1C281.1 835.5 283.3 831.5 285.4 826.8C287.5 822.1 289.3 815.4 291.0 809.9C292.7 804.4 293.8 800.3 295.5 794.0C297.2 787.7 299.3 780.7 301.2 772.2C303.1 763.7 304.8 755.0 306.8 742.8C308.8 730.6 311.3 711.8 313.1 699.1C314.9 686.4 316.2 677.5 317.8 666.4C319.4 655.2 321.0 642.6 322.4 632.2C323.8 621.8 325.1 611.7 326.3 604.2C327.5 596.7 328.6 590.8 329.4 587.1C330.2 583.4 330.7 583.1 331.3 582.0C331.9 580.9 332.4 580.3 333.0 580.3C333.6 580.3 334.1 580.9 334.7 582.0C335.3 583.1 335.7 583.9 336.4 587.1C337.1 590.3 338.2 596.4 338.8 601.1C339.4 605.8 339.5 609.4 340.0 615.1C340.5 620.8 341.2 627.6 341.9 635.1C342.6 642.6 343.4 651.6 344.1 659.9C344.9 668.2 345.8 677.6 346.4 685.0C347.0 692.4 346.9 696.3 347.5 704.4C348.1 712.5 349.1 723.6 349.8 733.8C350.6 744.0 351.2 756.0 352.0 765.4C352.8 774.8 353.5 783.0 354.3 790.0C355.1 797.0 355.5 800.1 356.6 807.6C357.7 815.1 359.2 826.4 361.1 834.7C363.0 843.0 365.8 851.3 367.9 857.3C370.0 863.3 372.1 867.0 374.0 870.5C375.9 874.0 376.6 875.0 379.0 878.6C381.4 882.2 384.7 888.3 388.1 892.1C391.5 895.9 396.0 898.9 399.4 901.2C402.8 903.5 406.1 904.5 408.4 905.7C410.6 906.9 411.4 908.0 412.9 908.4C414.4 908.8 415.2 907.5 417.5 907.9C419.8 908.3 423.1 910.1 426.5 910.9C429.9 911.7 434.2 912.7 437.8 912.9C441.4 913.1 444.6 912.7 448.0 912.0C451.4 911.3 454.9 909.9 458.1 908.6C461.3 907.3 464.2 905.4 467.2 904.1C470.2 902.8 472.8 901.4 476.2 900.7C479.6 900.0 484.1 899.7 487.5 899.8C490.9 899.9 493.1 900.1 496.6 901.2C500.1 902.3 504.9 904.9 508.5 906.5C512.1 908.1 515.1 909.5 518.4 911.0C521.7 912.5 525.2 914.0 528.2 915.3C531.2 916.6 533.6 917.4 536.7 918.8C539.8 920.2 543.3 922.3 546.6 923.8C549.9 925.3 553.2 926.6 556.5 928.0C559.8 929.4 562.9 931.1 566.4 932.2C569.9 933.3 573.7 933.8 577.7 934.4C581.7 935.0 586.0 935.5 590.4 936.0C594.8 936.5 599.5 937.2 604.1 937.5C608.7 937.8 615.2 937.7 618.2 937.9C621.2 938.1 620.8 939.0 621.8 938.9C622.8 938.8 622.1 937.6 623.9 937.5C625.7 937.4 628.6 938.1 632.4 938.4C636.2 938.7 641.8 939.0 646.5 939.2C651.2 939.4 654.1 939.5 660.6 939.6C667.1 939.7 681.5 939.6 685.7 939.6" class="thickB" />
<path d="M389.6 702.4C389.8 703.2 392.4 716.6 392.7 718.2C393.0 719.8 395.8 732.5 396.2 733.8C396.6 735.1 399.4 744.1 399.8 745.1C400.2 746.1 403.6 752.7 404.0 753.6C404.4 754.5 407.9 762.5 408.2 763.4C408.5 764.3 410.2 771.1 410.4 771.9C410.6 772.7 411.6 778.6 411.8 779.0C412.0 779.4 414.3 779.4 414.6 779.3C414.9 779.2 417.1 776.8 417.4 776.9C417.7 777.0 420.5 781.1 421.0 781.8C421.5 782.5 426.1 789.5 426.6 790.3C427.1 791.1 431.1 796.7 431.6 797.3C432.1 797.9 435.3 801.5 435.8 801.6C436.3 801.7 440.2 800.3 440.7 800.2C441.2 800.1 445.2 800.5 445.7 800.2C446.2 800.0 450.1 795.9 450.6 795.2C451.1 794.5 455.8 787.0 456.3 786.0C456.8 785.0 460.5 777.1 461.0 776.0C461.5 774.9 465.1 764.3 465.6 763.0C466.1 761.7 470.1 751.3 470.6 750.3C471.1 749.3 475.1 743.8 475.5 743.2C475.9 742.6 477.7 737.9 478.1 737.6C478.5 737.3 482.1 737.3 482.6 737.2C483.1 737.1 487.0 735.7 487.5 735.8C488.0 735.9 492.0 738.5 492.5 739.0C493.0 739.5 497.0 745.2 497.4 746.1C497.8 747.0 500.6 755.2 501.0 756.0C501.4 756.8 504.8 761.6 505.2 762.3C505.6 763.0 507.6 769.3 508.0 770.1C508.4 770.9 511.8 777.8 512.3 778.6C512.8 779.4 516.7 786.0 517.2 787.0C517.7 788.0 521.0 797.4 521.4 798.3C521.8 799.2 525.3 804.6 525.7 805.4C526.1 806.2 529.5 814.1 529.9 814.6C530.2 815.1 532.5 815.4 532.7 816.0C532.9 816.6 534.0 826.0 534.2 826.6C534.4 827.2 537.2 828.2 537.4 828.7C537.6 829.2 539.0 835.9 539.1 836.5C539.2 837.1 540.1 839.7 540.3 840.4C540.5 841.1 543.4 849.7 543.8 850.3C544.2 850.9 547.7 852.5 548.0 853.1C548.3 853.7 549.9 862.1 550.1 863.0C550.4 863.9 552.7 871.0 553.0 871.5C553.3 872.0 555.5 873.0 555.8 873.6C556.1 874.2 558.9 881.9 559.3 882.8C559.7 883.7 562.5 890.5 562.9 891.3C563.3 892.1 566.7 897.8 567.1 898.3C567.5 898.8 570.3 900.2 570.6 900.5C570.9 900.8 573.1 903.8 573.4 904.0C573.7 904.2 576.6 905.0 577.0 905.4C577.4 905.8 580.9 910.6 581.2 911.0C581.6 911.4 583.8 912.6 584.0 912.5C584.2 912.4 586.0 908.9 586.2 908.9C586.5 908.9 588.6 912.8 589.0 913.2C589.4 913.6 594.0 915.8 594.6 916.0C595.2 916.2 600.7 916.8 601.3 917.0C601.9 917.2 606.3 920.3 606.9 920.5C607.5 920.7 612.1 921.8 612.6 921.9C613.1 922.0 616.5 923.4 616.8 923.3C617.1 923.2 618.7 918.7 618.9 919.1C619.1 919.5 620.9 930.5 621.1 930.4C621.4 930.3 623.6 918.2 623.9 917.7C624.2 917.2 627.0 920.3 627.4 920.5C627.8 920.7 630.7 920.8 631.0 921.2C631.3 921.6 633.6 927.0 633.8 927.6C634.0 928.2 635.7 933.2 635.9 933.2C636.1 933.2 638.5 928.3 638.7 928.3C638.9 928.3 640.6 933.2 640.8 933.2C641.0 933.2 642.7 929.2 643.0 929.0C643.3 928.8 646.2 929.2 646.5 929.0C646.8 928.8 649.0 925.3 649.3 925.5C649.6 925.7 652.5 932.5 652.9 932.5C653.3 932.5 656.7 926.3 657.1 926.2C657.5 926.1 660.2 930.3 660.6 930.4C661.0 930.5 663.8 927.4 664.1 927.6C664.4 927.8 666.7 933.7 667.0 933.9C667.3 934.1 670.2 932.6 670.5 932.5C670.8 932.4 673.0 931.7 673.3 931.8C673.6 931.9 676.5 934.7 676.9 934.6C677.3 934.5 680.1 930.6 680.4 930.4C680.7 930.2 683.1 931.4 683.2 931.5" class="thickB" />
<text class="al" transform="translate(27.3,389.6) rotate(-90)" style="font-size:22.3px" xml:space="preserve">Extinction<tspan dx="1.4"> Coefficient</tspan><tspan dx="1.1">  (</tspan><tspan dx="2">mM</tspan><tspan class="sup" dy="-9.6" dx="-1.2">-1</tspan><tspan dy="9.6" dx="2.6"> cm</tspan><tspan class="sup" dy="-9.6" dx="0.6">-1</tspan><tspan dy="9.6" dx="2.6">)</tspan></text>
<text class="al" transform="translate(27.3,898) rotate(-90)" style="font-size:22.3px" xml:space="preserve">Extinction<tspan dx="1.4"> coefficient</tspan><tspan dx="1.1"> (</tspan><tspan dx="2">mM</tspan><tspan class="sup" dy="-9.6" dx="-1.2">-1</tspan><tspan dy="9.6" dx="2.6"> cm</tspan><tspan class="sup" dy="-9.6" dx="0.6">-1</tspan><tspan dy="9.6" dx="2.6">)</tspan></text>
<text class="al" transform="translate(392,501.9) scale(1.035,1)" text-anchor="middle" xml:space="preserve">wavelength  (nm)</text>
<text class="al" transform="translate(392.4,1017.3) scale(1.035,1)" text-anchor="middle" xml:space="preserve">wavelength (nm)</text>
<text class="pl" x="631.5" y="66.2" text-anchor="middle">A</text>
<text class="pl" x="637" y="587.5" text-anchor="middle">B</text>
</svg>
</body></html>
